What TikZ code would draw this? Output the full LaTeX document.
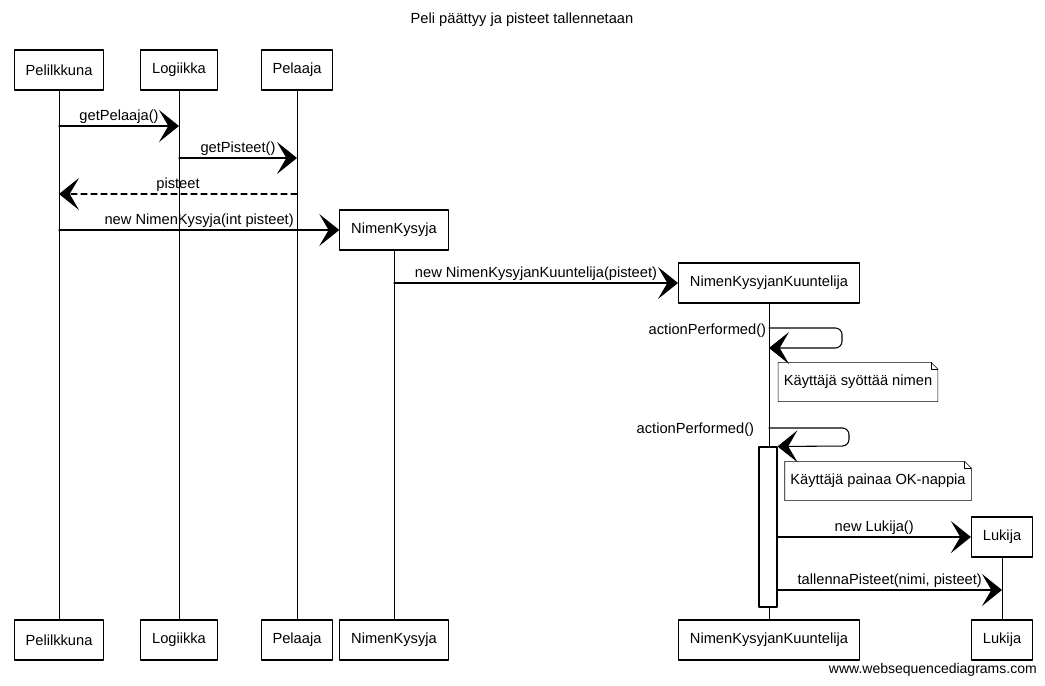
\documentclass[tikz,border=0pt]{standalone}
\usepackage{fontspec}
\setmainfont{Liberation Sans}
\usetikzlibrary{arrows.meta}
\newcommand\notebox[1]{%
  \draw[thin] (#1.north west) -- ([xshift=-5pt]#1.north east) -- ([yshift=-5pt]#1.north east)
    -- (#1.south east) -- (#1.south west) -- cycle;
  \draw[thin] ([xshift=-5pt]#1.north east) |- ([yshift=-5pt]#1.north east);}
\begin{document}
\begin{tikzpicture}[x=0.75pt,y=-0.75pt,line join=round,line cap=round,
	font=\fontsize{11}{13}\selectfont]
	\tikzset{actor/.style={draw,line width=0.9pt,fill=white,minimum height=30pt,inner xsep=8.5pt},
		msg/.style={line width=0.8pt,-{Stealth[length=15pt,width=24pt,inset=7pt]}},
		ret/.style={msg,dash pattern=on 4.5pt off 3pt},
		lbl/.style={above,inner sep=1.5pt},
		life/.style={line width=0.7pt},
		note/.style={minimum height=29pt,inner xsep=4pt}}
	\useasboundingbox (0,0) rectangle (1045,685);
	\node (title) at (522,20) {Peli päättyy ja pisteet tallennetaan};
	\foreach \n/\x/\y/\t in {pel/59/70/Pelilkkuna,log/179/70/Logiikka,pla/297/70/Pelaaja,
		nk/394/230/NimenKysyja,nkk/769/283/NimenKysyjanKuuntelija,luk/1002/537/Lukija}
	{
		\node[actor] (\n) at (\x,\y) {\t};
		\node[actor] (\n b) at (\x,640) {\t};
		\draw[life] (\n.south) -- (\n b.north);
	}
	\node[draw,fill=white,line width=0.8pt,minimum width=13.5pt,minimum height=120pt] (act) at (768,527) {};
	\coordinate (m1) at (0,126);
	\coordinate (m2) at (0,158);
	\coordinate (m3) at (0,194);
	\coordinate (s1) at (842,328);
	\coordinate (s2) at (849,428);
	\coordinate (m8) at (0,590);
	\draw[msg] (pel.south |- m1) -- (log.south |- m1) node[lbl,midway] (l1) {getPelaaja()};
	\draw[msg] (log.south |- m2) -- (pla.south |- m2) node[lbl,midway] (l2) {getPisteet()};
	\draw[ret] (pla.south |- m3) -- (pel.south |- m3) node[lbl,midway] (l3) {pisteet};
	\draw[msg] (pel.south |- nk) -- (nk.west) node[lbl,midway] (l4) {new NimenKysyja(int pisteet)};
	\draw[msg] (nk.south |- nkk) -- (nkk.west) node[lbl,midway] (l5) {new NimenKysyjanKuuntelija(pisteet)};
	\draw[msg,rounded corners=5pt] (nkk.south |- s1) -- (s1) -- ++(0,20) -- ++(-73,0);
	\node[left,inner sep=2pt,yshift=-2pt] (l6) at (nkk.south |- s1) {actionPerformed()};
	\node[note] (n1) at (858,382) {Käyttäjä syöttää nimen};
	\notebox{n1}
	\draw[msg,rounded corners=5pt] (nkk.south |- s2) -- (s2) -- ++(0,18) -- (act.north east);
	\node[left,inner sep=2pt,yshift=-1pt] (l7) at ([xshift=-9pt]nkk.south |- s2) {actionPerformed()};
	\node[note] (n2) at (878,481) {Käyttäjä painaa OK-nappia};
	\notebox{n2}
	\draw[msg] (act.east |- luk) -- (luk.west) node[lbl,midway] (l8) {new Lukija()};
	\draw[msg] (act.east |- m8) -- (luk.south |- m8) node[lbl,midway] (l9) {tallennaPisteet(nimi, pisteet)};
	\node[anchor=east,inner sep=0pt,font=\fontsize{10.5}{12}\selectfont] (wsd) at (1037,670) {www.websequencediagrams.com};
\end{tikzpicture}
\end{document}
